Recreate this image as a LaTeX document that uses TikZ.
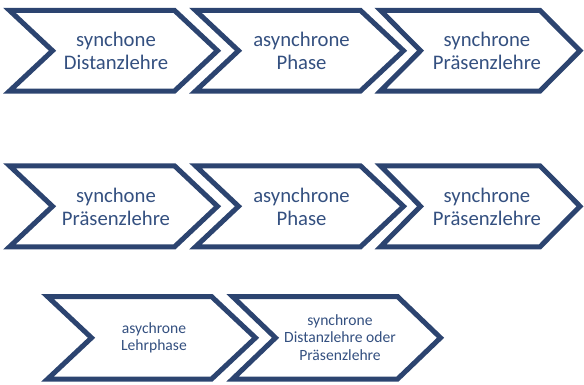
\documentclass[tikz,border=0pt]{standalone}
\usepackage{fontspec}
\setmainfont{Carlito}
\definecolor{chevblue}{RGB}{44,68,112}
\definecolor{chevtext}{RGB}{52,80,128}
\tikzset{
  chevline/.style={draw=chevblue, line width=5pt, line join=miter, fill=white},
  bigtext/.style={text=chevtext, align=center, inner sep=0pt, font=\fontsize{20.7}{23}\selectfont},
  smalltext/.style={text=chevtext, align=center, inner sep=0pt, font=\fontsize{15.6}{17.6}\selectfont},
  pics/chevron/.style n args={3}{code={%
    \draw[chevline] (0,-#2) -- ({#1-#3},-#2) -- (#1,0) -- ({#1-#3},#2) -- (0,#2) -- (#3,0) -- cycle;
  }}
}
\begin{document}
\begin{tikzpicture}[x=1pt,y=-1pt]
\useasboundingbox (0,0) rectangle (584,384);
% row 1
\pic at (9.5,50.7) {chevron={208}{40.3}{43}};
\pic at (195.5,50.7) {chevron={208}{40.3}{43}};
\pic at (380.5,50.7) {chevron={199.5}{40.3}{40}};
\node[bigtext] (a1) at (116,51) {synchone\\Distanzlehre};
\node[bigtext] (a2) at (301.5,51) {asynchrone\\Phase};
\node[bigtext] (a3) at (487,51) {synchrone\\Präsenzlehre};
% row 2
\pic at (9.5,206.3) {chevron={208}{40.5}{43}};
\pic at (195.5,206.3) {chevron={208}{40.5}{43}};
\pic at (380.5,206.3) {chevron={199.5}{40.5}{40}};
\node[bigtext] (b1) at (116,207) {synchone\\Präsenzlehre};
\node[bigtext] (b2) at (301.5,207) {asynchrone\\Phase};
\node[bigtext] (b3) at (487,207) {synchrone\\Präsenzlehre};
% row 3
\pic at (47.5,337.8) {chevron={208}{41.3}{44}};
\pic at (232.5,337.8) {chevron={208}{41.3}{43}};
\node[smalltext] (c1) at (154,338) {asychrone\\Lehrphase};
\node[smalltext] (c2) at (340,337.5) {synchrone\\Distanzlehre oder\\Präsenzlehre};
\end{tikzpicture}
\end{document}
